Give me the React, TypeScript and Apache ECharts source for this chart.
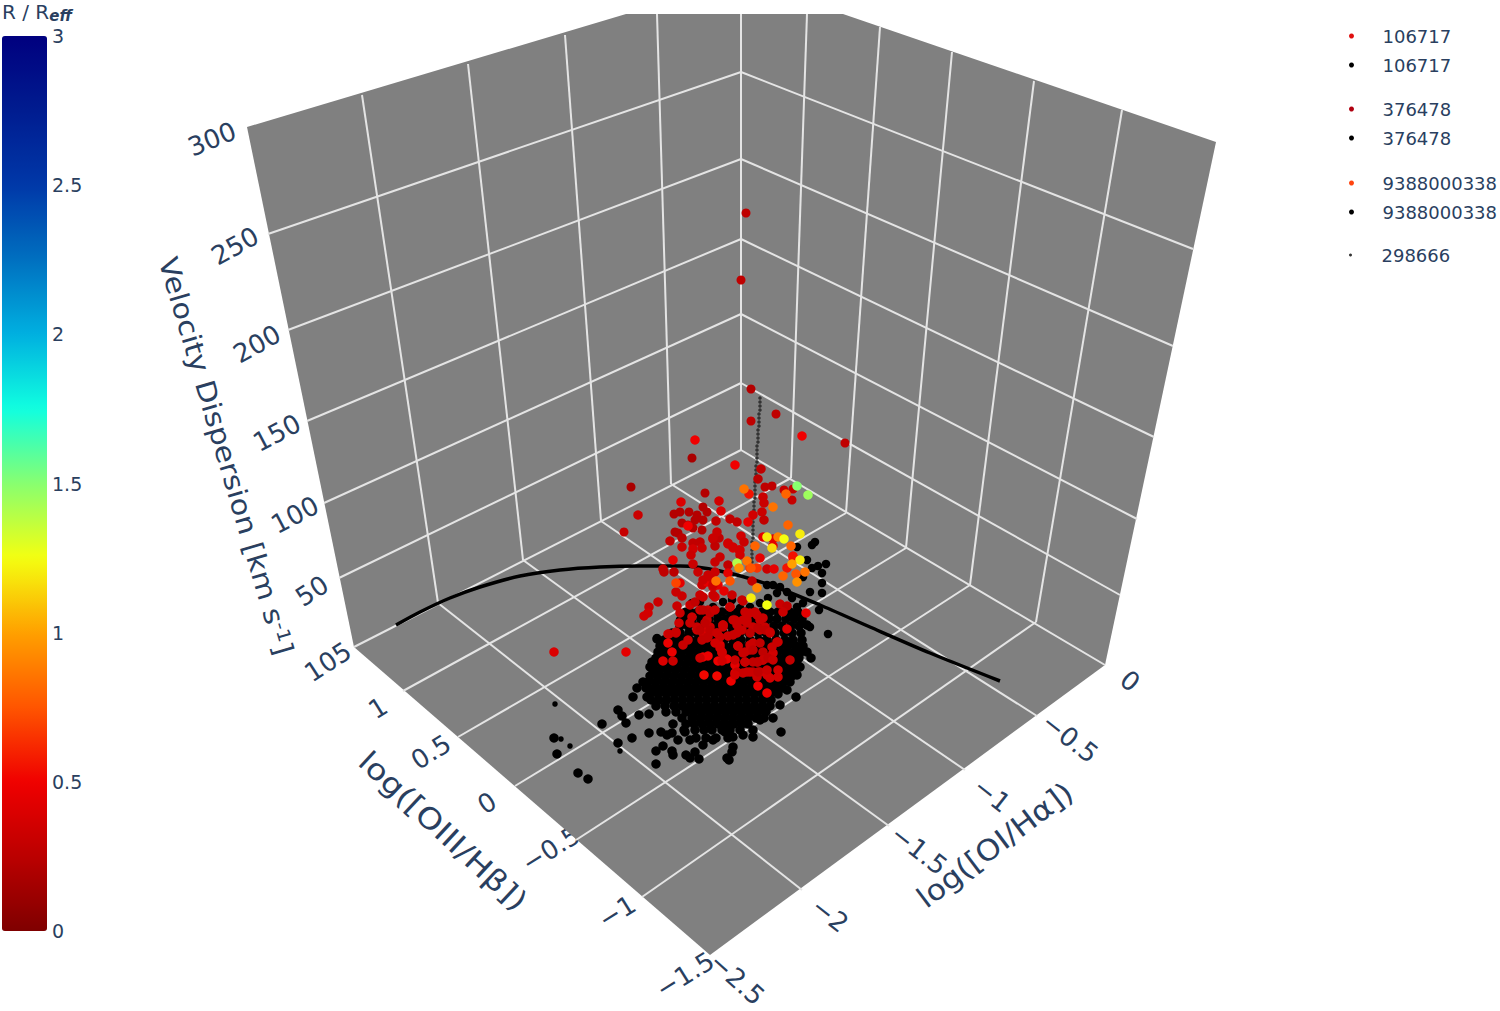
import React, { useEffect, useRef } from "react";
import * as echarts from "echarts";

const FONT = "DejaVu Sans";
const INK = "#2a3f5f";
const WALL = "#808080";
const GRIDLINE = "#e4e4e4";

// Plot box as seen in the picture (projected page coordinates).
const boxOutline = [[247,127],[626,14],[843,14],[1216,142],[1105,665],[710,955],[354,647]];
const sigmaLeftEdge = [[268,234],[288,330],[307,421],[324,503],[339,578]];
const sigmaBackEdge = [[741,72],[741,159],[741,239],[741,314],[741,383]];
const sigmaRightEdge = [[1193,249],[1173,346],[1154,437],[1137,519],[1120,595]];
const leftWallVerticals = [[362,95,438,603],[468,64,523,560],[565,35,601,521],[657,14,671,484],[741,14,741,450]];
const rightWallVerticals = [[807,14,791,478],[880,27,846,513],[952,52,906,548],[1034,81,970,585],[1122,110,1036,622]];
const floorOiiiLines = [[403,691,791,478],[458,737,846,513],[515,786,906,548],[576,840,970,585],[642,897,1036,622]];
const floorOiLines = [[438,603,802,890],[523,560,889,826],[601,521,965,770],[671,484,1037,716]];
const floorBackEdges = [[354,647,741,450],[741,450,1105,665]];

// Black points
const blackDenseRows: [number, number[]][] = [
  [612,[690,698,706,714,722,730,738,746,754,762,770,778,790,798]],
  [619,[684,692,701,709,718,726,735,743,752,761,769,777,786,794,802]],
  [626,[680,688,697,706,714,722,731,740,748,757,765,774,782,791,799]],
  [633,[672,680,689,697,706,715,723,732,740,749,758,766,775,784,792,801]],
  [640,[664,673,681,690,698,707,716,724,733,741,750,759,767,776,785,793,802]],
  [646,[660,668,676,684,692,700,708,716,724,732,740,748,756,764,772,780,788,796,803]],
  [652,[658,666,674,682,690,698,706,714,722,730,738,746,754,762,770,778,786,794,801]],
  [658,[656,664,672,680,688,696,704,712,720,728,736,744,752,760,768,776,784,792,799]],
  [664,[654,662,670,678,686,694,702,710,718,726,734,742,750,758,766,774,782,790,797]],
  [670,[653,660,668,676,684,692,700,708,716,724,732,740,748,756,764,772,780,788,795]],
  [676,[650,658,666,674,682,690,698,706,714,722,730,738,746,754,762,770,778,786,792]],
  [682,[648,656,664,672,680,688,696,704,712,720,728,736,744,752,760,768,776,784,790]],
  [688,[646,654,662,670,678,686,694,702,710,718,726,734,742,750,758,766,774,782]],
  [694,[650,658,666,674,682,690,698,706,714,722,730,738,746,754,762,770,778]],
  [700,[651,659,667,675,683,691,699,707,715,723,731,739,747,755,763,771]],
  [706,[656,665,674,682,690,698,706,714,722,730,738,746,754,762,770]],
  [712,[666,676,686,694,702,710,718,726,734,742,750,758,766]],
  [718,[682,692,700,708,716,724,732,740,748,756,764]],
  [724,[686,694,702,710,718,726,734,742,748]],
  [730,[684,695,704,712,722,730,740]],
  [738,[696,706,716,728]],
];
const blackOutliers = [
  [554,738],[557,754],[578,773],[588,779],[602,724],[618,710],[622,716],[626,723],[632,738],[618,743],
  [639,715],[633,697],[637,688],[643,682],[647,697],[649,714],[657,639],[666,652],[652,662],[650,667],
  [649,733],[661,732],[667,735],[673,724],[672,733],[678,740],[663,746],[656,751],[656,764],[672,751],
  [673,755],[686,755],[690,758],[699,759],[695,752],[703,745],[685,732],[690,740],[713,740],[725,732],
  [733,737],[733,747],[732,752],[727,758],[729,760],[743,735],[753,737],[753,730],[760,720],[773,718],
  [781,732],[796,697],[811,658],[807,625],[800,667],[797,675],[787,690],[780,705],[807,652],
];
const blackSmall = [[555,704],[561,739],[570,746],[620,751]];
const blackUpper = [
  [815,542],[812,545],[797,547],[807,560],[818,566],[826,564],[812,568],[822,573],[803,577],[822,583],
  [810,592],[822,593],[803,603],[819,610],[794,615],[800,625],[807,625],[810,627],[828,634],[787,592],
  [780,587],[773,585],[767,585],[792,598],[797,607],[777,593],[768,598],[760,603],[750,607],[740,608],
  [732,600],[723,602],[713,607],[700,602],[692,603],[685,612],[680,620],[657,638],[683,638],
];
const verticalDots = [
  [760,398],[760,402],[760,406],[760,410],[759,414],[759,418],[759,422],[759,426],[758,430],[758,434],
  [758,438],[758,442],[757,446],[757,450],[757,454],[757,458],[757,462],[756,466],[756,470],[756,474],
  [756,478],[755,482],[755,486],[755,490],[755,494],[755,498],[754,502],[754,506],[754,510],[754,514],
  [753,518],[753,522],[753,526],[753,530],[753,534],[753,538],[752,542],[752,546],[752,550],[752,554],
  [752,558],[752,562],[751,566],[751,570],
];
const demarcationCurve = [
  [396,625],[420,612],[450,598],[480,587],[520,576],[560,570],[600,567],[640,566],[680,566],[720,571],[770,585],[820,605],[870,627],[930,653],[1000,681],
];

// Coloured points: [projected x, projected y, R / Reff]
const reds106717 = [
  [695,440,.5],[802,436,.5],[735,465,.5],[761,469,.28],[758,479,.25],[638,515,.32],[681,502,.4],[719,501,.36],
  [721,511,.4],[749,494,.55],[763,497,.32],[764,503,.32],[762,512,.32],[764,520,.28],[753,515,.36],[748,522,.45],
  [688,526,.5],[716,521,.28],[730,519,.28],[737,522,.28],[670,541,.28],[682,538,.25],[693,543,.28],[700,542,.28],
  [682,547,.32],[693,549,.36],[702,548,.32],[691,555,.32],[713,539,.32],[719,538,.28],[715,546,.28],[728,544,.36],
  [733,548,.45],[739,550,.36],[741,536,.36],[744,542,.32],[763,537,.45],[773,546,.45],[773,539,.45],[793,558,.55],
  [793,556,.55],[787,568,.55],[673,560,.45],[715,562,.32],[720,557,.32],[693,564,.32],[760,558,.45],[728,565,.28],
  [750,568,.65],[757,568,.65],[767,569,.32],[774,569,.45],[663,569,.28],[664,572,.28],[674,572,.25],[698,572,.32],
  [715,572,.32],[728,573,.45],[708,575,.32],[752,581,.28],[680,583,.45],[702,585,.32],[707,582,.45],[713,587,.36],
  [718,585,.45],[724,591,.45],[676,592,.32],[682,596,.32],[703,597,.32],[715,597,.36],[732,595,.32],[658,602,.32],
  [649,607,.32],[648,613,.36],[644,616,.36],[677,606,.32],[680,613,.32],[679,623,.36],[690,605,.32],[695,602,.28],
  [730,607,.32],[743,601,.32],[780,604,.32],[787,606,.28],[783,612,.32],[806,613,.45],[700,610,.32],[708,610,.32],
  [692,617,.32],[690,623,.32],[697,627,.32],[707,620,.32],[710,627,.32],[703,633,.32],[717,633,.32],[723,625,.32],
  [735,620,.32],[745,612,.32],[755,612,.32],[760,620,.32],[747,620,.32],[757,628,.32],[765,627,.32],[770,633,.32],
  [737,633,.32],[787,629,.4],[676,633,.32],[668,634,.4],[554,652,.4],[626,652,.45],[669,634,.32],[676,632,.32],
  [668,643,.48],[672,652,.48],[663,661,.4],[673,661,.32],[683,645,.32],[688,640,.32],[697,630,.32],[708,630,.4],
  [707,638,.32],[703,657,.48],[708,656,.48],[704,675,.52],[717,676,.52],[718,661,.48],[727,659,.48],[720,645,.4],
  [722,652,.4],[731,681,.5],[758,686,.5],[767,693,.48],[790,660,.28],[738,646,.4],[735,665,.45],[735,673,.45],
  [745,662,.36],[747,672,.32],[753,672,.28],[760,672,.32],[767,675,.36],[778,670,.36],[778,677,.36],[757,677,.32],
  [770,678,.36],[763,660,.32],[770,657,.32],[773,653,.36],[777,642,.36],[753,643,.32],[750,650,.32],[745,652,.32],
  [760,630,.32],[753,627,.32],[747,623,.32],[737,625,.32],[723,625,.32],[710,632,.32],[753,662,.28],[758,662,.28],[763,652,.28],
  [703,610,.28],[710,613,.28],[715,610,.32],[705,623,.28],[710,630,.28],[717,633,.32],[700,630,.28],[702,640,.28],
  [708,637,.28],[723,627,.32],[720,637,.32],[750,613,.32],[757,615,.32],[763,618,.32],[743,620,.32],[742,630,.32],
  [733,635,.32],[728,636,.32],[750,633,.28],[758,628,.28],[765,630,.28],[770,632,.32],[715,643,.36],[720,648,.36],
  [722,653,.36],[738,646,.32],[750,645,.32],[743,653,.32],[753,650,.28],[760,643,.28],[772,647,.32],[778,642,.32],
  [763,660,.32],[757,662,.28],[768,658,.28],[773,660,.32],[745,662,.32],[735,660,.32],[722,661,.36],[700,658,.32],
  [737,672,.32],[743,673,.32],[750,672,.32],[758,672,.28],[767,670,.32],[735,675,.36],
  [703,580,.32],[710,577,.32],[713,585,.32],[700,595,.32],[713,595,.32],[728,543,.36],[733,547,.36],[740,550,.36],
  [740,555,.36],[713,538,.32],[717,532,.32],[742,600,.32],[733,620,.32],[730,607,.32],
];
const reds376478 = [
  [746,213,.27],[741,280,.27],[751,389,.22],[776,414,.27],[751,421,.27],[692,458,.18],[845,443,.27],[631,487,.18],
  [705,493,.22],[624,532,.3],[765,487,.27],[772,486,.27],[784,490,.3],[793,489,.3],[792,500,.3],[674,514,.22],
  [680,512,.22],[689,512,.22],[697,515,.22],[703,507,.22],[707,512,.22],[682,523,.22],[688,525,.22],[695,520,.22],
  [703,520,.22],[693,528,.22],[702,530,.22],[675,532,.22],[678,533,.22],
];
const reds9388000338 = [
  [744,489,.85],[786,494,.8],[797,486,1.5],[808,495,1.45],[773,507,.85],[767,537,1.2],[778,537,.9],[784,539,1.25],
  [800,534,1.2],[788,525,.8],[772,548,1.15],[791,546,.8],[755,546,.8],[800,560,1.2],[792,564,1],[805,572,.85],
  [796,574,.75],[783,576,.8],[797,582,.95],[747,561,.85],[737,563,1.4],[739,568,.95],[751,568,.75],[730,581,.75],
  [716,581,.85],[676,583,.7],[757,588,.9],[751,598,1.2],[767,605,1.25],
];

const zTickLabels = ["300","250","200","150","100","50","105"];
const oiiiTickLabels = ["1","0.5","0","\u22120.5","\u22121","\u22121.5"];
const oiTickLabels = ["0","\u22120.5","\u22121","\u22121.5","\u22122","\u22122.5"];
const zTickSpots = [[212,139,-22],[235,246,-29],[257,344,-29],[277,433,-28],[295,515,-28],[312,591,-33],[328,662,-33]];
const oiiiTickSpots = [[378,708,-32],[431,752,-32],[487,803,-32],[551,849,-32],[617,912,-32],[685,975,-32]];
const oiTickSpots = [[1130,681,38],[1070,738,38],[992,795,38],[919,850,38],[830,915,38],[737,979,42]];

const legendRows = [
  { series: "106717 a", y: 36, size: 5, color: "#e0100f" },
  { series: "106717 b", y: 65, size: 5, color: "#000000" },
  { series: "376478 a", y: 109, size: 5, color: "#b00010" },
  { series: "376478 b", y: 138, size: 5, color: "#000000" },
  { series: "9388000338 a", y: 183, size: 5, color: "#ff4510" },
  { series: "9388000338 b", y: 212, size: 5, color: "#000000" },
  { series: "298666", y: 255, size: 3, color: "#555555" },
];
const colourStops = ["#7f0000","#bb0000","#f00000","#ff5500","#ffa000","#f4ff10","#88ff70","#10ffe0","#00b0e0","#0070c0","#0038a8","#001c90","#00007f"];

function App() {
  const ref = useRef<HTMLDivElement>(null);
  useEffect(() => {
    const chart = echarts.init(ref.current!, undefined, { renderer: "svg" });
    const blackDense = blackDenseRows.flatMap(([y, xs]) => xs.map((x) => [x, y]));
    const ringLines = sigmaLeftEdge.flatMap((p, i) => [
      [p[0], p[1], sigmaBackEdge[i][0], sigmaBackEdge[i][1]],
      [sigmaBackEdge[i][0], sigmaBackEdge[i][1], sigmaRightEdge[i][0], sigmaRightEdge[i][1]],
    ]);
    const lines = [...ringLines, ...leftWallVerticals, ...rightWallVerticals, ...floorOiiiLines, ...floorOiLines, ...floorBackEdges];

    const tickText = (labels: string[], spots: number[][], size: number) =>
      labels.map((text, i) => ({
        type: "text", x: spots[i][0], y: spots[i][1], rotation: (-spots[i][2] * Math.PI) / 180,
        style: { text, fontFamily: FONT, fontSize: size, fill: INK, align: "center", verticalAlign: "middle" },
      }));

    const dot = (name: string, data: number[][], size: number, z: number, color: string) => ({
      type: "scatter", name, data, symbolSize: size, z, clip: false, silent: true,
      itemStyle: { color, opacity: 1 },
    });

    chart.setOption({
      animation: false,
      backgroundColor: "#ffffff",
      grid: [
        { left: 0, top: 0, width: 1500, height: 1011, show: false },
        { left: 2, top: 36, width: 45, height: 895, show: false },
      ],
      xAxis: [
        { type: "value", min: 0, max: 1500, show: false, gridIndex: 0 },
        { type: "value", min: 0, max: 1, show: false, gridIndex: 1 },
      ],
      yAxis: [
        { type: "value", min: 0, max: 1011, inverse: true, show: false, gridIndex: 0 },
        {
          type: "value", min: 0, max: 3, interval: 0.5, gridIndex: 1, position: "right",
          axisLine: { show: false }, axisTick: { show: false }, splitLine: { show: false },
          axisLabel: { color: INK, fontSize: 19, fontFamily: FONT, margin: 5 },
        },
      ],
      visualMap: {
        type: "continuous", min: 0, max: 3, dimension: 2, seriesIndex: [5, 6, 7],
        left: 2, top: 36, itemWidth: 45, itemHeight: 895, padding: 0, calculable: false,
        text: ["", ""], inRange: { color: colourStops }, z: 10,
      },
      legend: legendRows.map((row) => ({
        data: [row.series], left: 1349, top: row.y - 9, padding: 0, icon: "circle",
        itemWidth: 52, itemHeight: row.size, selectedMode: false,
        formatter: (n: string) => n.split(" ")[0],
        textStyle: { color: INK, fontSize: 18, fontFamily: FONT },
      })),
      graphic: [
        ...tickText(zTickLabels, zTickSpots, 26),
        ...tickText(oiiiTickLabels, oiiiTickSpots, 26),
        ...tickText(oiTickLabels, oiTickSpots, 26),
        {
          type: "text", x: 226, y: 456, rotation: (-73.5 * Math.PI) / 180, scaleX: 1.12,
          style: {
            text: "{a|Velocity Dispersion [km s}{b|-1}{a|]}", align: "center", verticalAlign: "middle",
            rich: {
              a: { fontFamily: FONT, fontSize: 27, fill: INK, color: INK },
              b: { fontFamily: FONT, fontSize: 18, fill: INK, color: INK, verticalAlign: "top", padding: [0, 0, 8, 0] },
            },
          },
        },
        {
          type: "text", x: 443, y: 831, rotation: (-43 * Math.PI) / 180, scaleX: 1.16,
          style: { text: "log([OIII/H\u03b2])", fontFamily: FONT, fontSize: 29, fill: INK, align: "center", verticalAlign: "middle" },
        },
        {
          type: "text", x: 995, y: 845, rotation: (37 * Math.PI) / 180, scaleX: 1.09,
          style: { text: "log([OI/H\u03b1])", fontFamily: FONT, fontSize: 29, fill: INK, align: "center", verticalAlign: "middle" },
        },
        {
          type: "text", x: 2, y: 12,
          style: {
            text: "{a|R / R}{b|eff}", align: "left", verticalAlign: "middle",
            rich: {
              a: { fontFamily: FONT, fontSize: 20, fill: INK, color: INK },
              b: { fontFamily: FONT, fontSize: 15, fontWeight: "bold", fontStyle: "italic", fill: INK, color: INK, padding: [8, 0, 0, 0] },
            },
          },
        },
      ],
      series: [
        {
          type: "custom", xAxisIndex: 0, yAxisIndex: 0, z: 1, silent: true, clip: false, data: [[0, 0]],
          renderItem: (_p: any, api: any) => ({
            type: "polygon",
            shape: { points: boxOutline.map((p) => api.coord(p)) },
            style: { fill: WALL, stroke: "none" },
          }),
        },
        {
          type: "custom", xAxisIndex: 0, yAxisIndex: 0, z: 2, silent: true, clip: false, data: lines,
          encode: { x: [0, 2], y: [1, 3] },
          renderItem: (_p: any, api: any) => {
            const a = api.coord([api.value(0), api.value(1)]);
            const b = api.coord([api.value(2), api.value(3)]);
            return {
              type: "line",
              shape: { x1: a[0], y1: a[1], x2: b[0], y2: b[1] },
              style: { stroke: GRIDLINE, lineWidth: 2, fill: "none" },
            };
          },
        },
        dot("106717 b", [...blackDense, ...blackOutliers], 9.5, 3, "#000000"),
        dot("376478 b", blackSmall, 5.5, 3, "#000000"),
        dot("9388000338 b", blackUpper, 8.5, 3, "#000000"),
        dot("106717 a", reds106717, 9.5, 6, "#e0100f"),
        dot("376478 a", reds376478, 9, 5, "#b00010"),
        dot("9388000338 a", reds9388000338, 9.5, 7, "#ff4510"),
        dot("298666", verticalDots, 3.5, 3, "#333333"),
        {
          type: "line", name: "curve", data: demarcationCurve, smooth: 0.25, showSymbol: false, z: 4, silent: true,
          lineStyle: { color: "#000000", width: 3.5 },
        },
      ],
    });
    return () => chart.dispose();
  }, []);
  return <div ref={ref} style={{ position: "absolute", left: 0, top: 0, width: 1500, height: 1011 }} />;
}

export default App;
